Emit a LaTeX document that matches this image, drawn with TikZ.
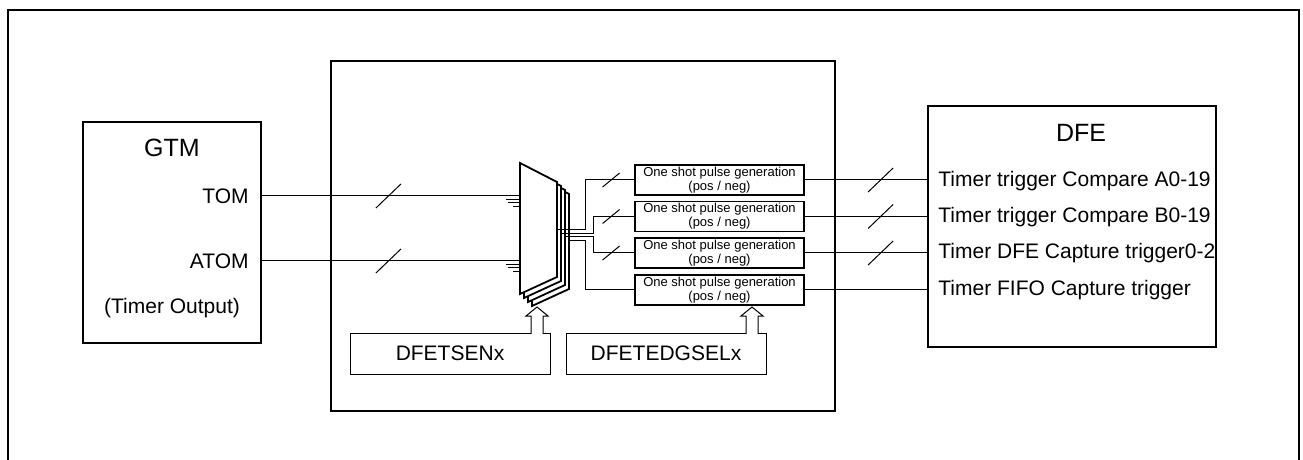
\documentclass[tikz,border=0pt]{standalone}
\usepackage{fontspec}
\setmainfont{Liberation Sans}
\usepackage{tikz}
\usetikzlibrary{positioning,calc}
\tikzset{
    blockbox/.style={draw, line width=1pt, inner sep=0pt},
    pulsebox/.style={draw, line width=0.9pt, inner sep=0pt, align=center, minimum width=84.5pt, minimum height=15pt, font=\fontsize{6.5}{7}\selectfont},
    regbox/.style={draw, line width=0.5pt, inner sep=0pt, minimum width=100pt, minimum height=20.5pt, font=\fontsize{10.5}{12}\selectfont},
    sigtext/.style={inner sep=0pt, font=\fontsize{10.5}{12}\selectfont},
    titletext/.style={inner sep=0pt, font=\fontsize{12.5}{14}\selectfont},
    wire/.style={line width=0.5pt},
    busmark/.style={line width=0.5pt},
    muxlayer/.style={draw, fill=white, line width=0.9pt, line join=miter},
    hollowarrow/.style={draw, fill=white, line width=0.5pt}
}
\newcommand{\busslash}[3]{\draw[busmark] ([shift={(-#2,#3)}]#1) -- ([shift={(#2,-#3)}]#1);}

\begin{document}
\begin{tikzpicture}[x=0.5pt, y=-0.5pt]
        \useasboundingbox (0,0) rectangle (1303,460);
        % outer frame, open at the bottom
        \draw[line width=1pt] (8,460) -- (8,10) -- (1299,10) -- (1299,460);

        \node[blockbox, minimum width=89pt, minimum height=110.5pt] (gtm) at (172,232.5) {};
        \node[titletext] (gtmtitle) at (172,148) {GTM};
        \node[sigtext, anchor=east] (tom) at (249,196) {TOM};
        \node[sigtext, anchor=east] (atom) at (249,261) {ATOM};
        \node[sigtext] (timerout) at (172,308) {(Timer Output)};

        \node[blockbox, minimum width=252pt, minimum height=175pt] (dfeif) at (583,236) {};

        \node[blockbox, minimum width=144pt, minimum height=120.5pt] (dfe) at (1072,226.5) {};
        \node[titletext] (dfetitle) at (1081,133) {DFE};
        \node[sigtext, anchor=west] (cmpa) at (938,181) {Timer trigger Compare A0-19};
        \node[sigtext, anchor=west] (cmpb) at (938,217) {Timer trigger Compare B0-19};
        \node[sigtext, anchor=west] (cap) at (938,253) {Timer DFE Capture trigger0-2};
        \node[sigtext, anchor=west] (fifo) at (938,290) {Timer FIFO Capture trigger};

        \node[pulsebox] (p1) at (719.5,180) {One shot pulse generation\\(pos / neg)};
        \node[pulsebox] (p2) at (719.5,216.5) {One shot pulse generation\\(pos / neg)};
        \node[pulsebox] (p3) at (719.5,253) {One shot pulse generation\\(pos / neg)};
        \node[pulsebox] (p4) at (719.5,290) {One shot pulse generation\\(pos / neg)};

        \node[regbox] (tsen) at (450,353.5) {DFETSENx};
        \node[regbox] (edgsel) at (666,353.5) {DFETEDGSELx};

        % multiplexer stack
        \foreach \k in {3,2,1,0}
            \draw[muxlayer, shift={(4*\k,4*\k)}] (520,163) -- (557,182) -- (557,277) -- (520,294) -- cycle;
        \coordinate (muxtom) at (520,196);
        \coordinate (muxatom) at (520,261);
        \coordinate (mo1) at (557,230);
        \coordinate (mo2) at (561,233.5);
        \coordinate (mo3) at (565,237);
        \coordinate (mo4) at (569,240.5);

        % inputs
        \draw[wire] (tom.east -| gtm.east) -- (muxtom);
        \draw[wire] (atom.east -| gtm.east) -- (muxatom);
        \busslash{$(tom.east -| gtm.east)!0.49!(muxtom)$}{12.5}{12}
        \busslash{$(atom.east -| gtm.east)!0.49!(muxatom)$}{12.5}{12}
        \foreach \m in {muxtom,muxatom} {
            \draw[wire] ([shift={(-14,3.5)}]\m) -- ([shift={(0,3.5)}]\m);
            \draw[wire] ([shift={(-12,7)}]\m) -- ([shift={(0,7)}]\m);
            \draw[wire] ([shift={(-7,10.5)}]\m) -- ([shift={(0,10.5)}]\m);
        }

        % mux outputs to pulse generators
        \draw[wire] (mo1) -- ++(28,0) |- (p1.west);
        \draw[wire] (mo2) -- ++(32,0) |- (p2.west);
        \draw[wire] (mo3) -- ++(28,0) |- (p3.west);
        \draw[wire] (mo4) -- ++(16,0) |- (p4.west);
        \foreach \p in {p1,p2,p3} {
            \busslash{$(\p.west)+(-23,0)$}{8.5}{7}
        }

        % pulse generators to DFE
        \draw[wire] (p1.east) -- (p1.east -| dfe.west);
        \draw[wire] (p2.east) -- (p2.east -| dfe.west);
        \draw[wire] (p3.east) -- (p3.east -| dfe.west);
        \draw[wire] (p4.east) -- (p4.east -| dfe.west);
        \foreach \p in {p1,p2,p3} {
            \busslash{$(\p.east)!0.62!(\p.east -| dfe.west)$}{12.5}{12}
        }

        % register control arrows
        \coordinate (tsentip) at (537,307);
        \coordinate (edgseltip) at (752,307);
        \foreach \t in {tsentip,edgseltip}
            \draw[hollowarrow] ([shift={(-6,27)}]\t) -- ++(0,-18) -- ++(-5,0) -- (\t) -- ++(11,9) -- ++(-5,0) -- ++(0,18);
\end{tikzpicture}
\end{document}
